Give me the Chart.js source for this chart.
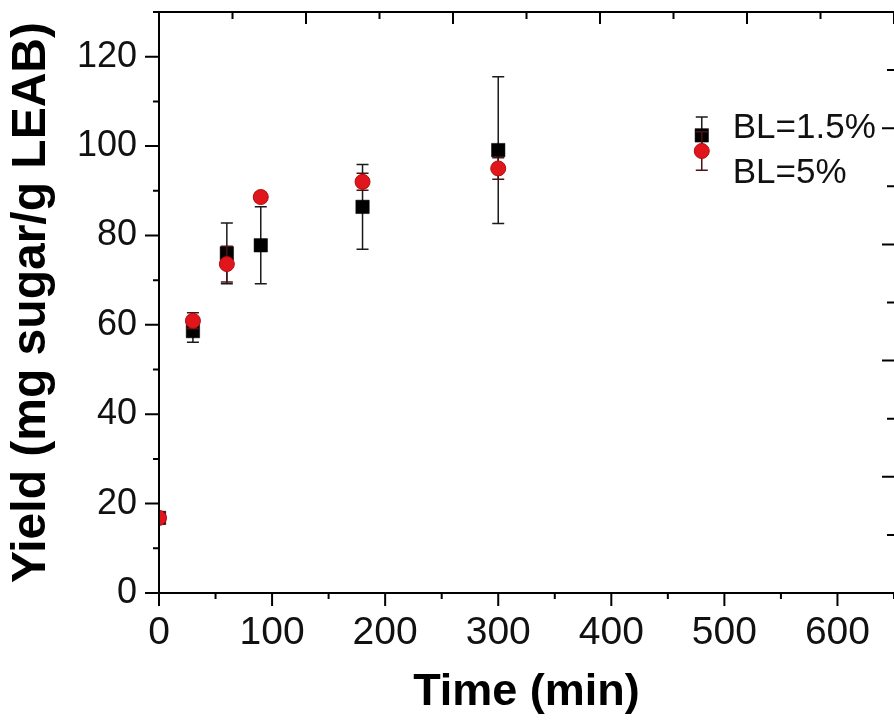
<!DOCTYPE html>
<html>
<head>
<meta charset="utf-8">
<script src="https://cdn.jsdelivr.net/npm/chart.js@4.4.1/dist/chart.umd.min.js"></script>
<style>
  html, body { margin: 0; padding: 0; background: #fff; overflow: hidden; }
  #yield-chart { display: block; }
</style>
</head>
<body>
<canvas id="yield-chart" width="904" height="723"></canvas>
<script>
// hydrolysis time (min) and sugar yield (mg sugar / g LEAB)
const times = [0, 30, 60, 90, 180, 300, 480];
const yieldBL15 = [16.8, 58.6, 76.0, 77.8, 86.4, 99.1, 102.4];
const errBL15 = [1.0, 2.5, 6.8, 8.6, 9.5, 16.4, 4.1];
const yieldBL5 = [16.8, 60.9, 73.6, 88.6, 92.0, 95.0, 98.9];
const errBL5 = [0.8, 1.8, 4.0, 1.0, 1.9, 2.4, 4.3];
const seriesNames = ["BL=1.5%", "BL=5%"];

const FONT = "'Liberation Sans', Arial, Helvetica, sans-serif";

const toPoints = ys => times.map((t, i) => ({ x: t, y: ys[i] }));

// error bars go under each series' own markers
const errorBars = {
  id: 'errorBars',
  beforeDatasetDraw(chart, args) {
    const ds = chart.data.datasets[args.index];
    if (!ds.errors) return;
    const { ctx, chartArea: a, scales } = chart;
    ctx.save();
    ctx.beginPath();
    ctx.rect(a.left, a.top, a.right - a.left, a.bottom - a.top);
    ctx.clip();
    ctx.strokeStyle = ds.errorColor;
    ctx.lineWidth = 1.5;
    ctx.beginPath();
    ds.data.forEach((p, i) => {
      const x = scales.x.getPixelForValue(p.x);
      const hi = scales.y.getPixelForValue(p.y + ds.errors[i]);
      const lo = scales.y.getPixelForValue(p.y - ds.errors[i]);
      ctx.moveTo(x, hi); ctx.lineTo(x, lo);
      ctx.moveTo(x - 6, hi); ctx.lineTo(x + 6, hi);
      ctx.moveTo(x - 6, lo); ctx.lineTo(x + 6, lo);
    });
    ctx.stroke();
    ctx.restore();
  }
};

// Origin-like frame: outward ticks left/bottom, inward ticks top/right.
// The right border itself falls outside the picture, only its ticks show.
const frame = {
  id: 'frame',
  afterDatasetsDraw(chart) {
    const { ctx, chartArea: a, scales } = chart;
    ctx.save();
    ctx.strokeStyle = '#000';
    ctx.lineWidth = 2;
    ctx.beginPath();
    ctx.moveTo(a.right + 5, a.top);
    ctx.lineTo(a.left, a.top);
    ctx.lineTo(a.left, a.bottom);
    ctx.lineTo(a.right + 5, a.bottom);
    for (let v = 0; v <= 650; v += 50) {
      const x = scales.x.getPixelForValue(v);
      const len = v % 100 === 0 ? 13 : 6;
      ctx.moveTo(x, a.bottom); ctx.lineTo(x, a.bottom + len);
    }
    for (let v = 0; v <= 130; v += 10) {
      const y = scales.y.getPixelForValue(v);
      const len = v % 20 === 0 ? 14 : 6;
      ctx.moveTo(a.left, y); ctx.lineTo(a.left - len, y);
    }
    for (let v = 0.5; v <= 5; v += 0.5) {
      const len = v % 1 === 0 ? 12 : 7;
      const x = scales.x2.getPixelForValue(v);
      ctx.moveTo(x, a.top); ctx.lineTo(x, a.top + len);
      const y = scales.y2.getPixelForValue(v);
      ctx.moveTo(a.right, y); ctx.lineTo(a.right - len, y);
    }
    ctx.stroke();
    ctx.restore();
  }
};

// legend text sits beside the 480 min markers
const legendText = {
  id: 'legendText',
  afterDraw(chart) {
    const { ctx, chartArea: a, scales } = chart;
    const x = scales.x.getPixelForValue(times[times.length - 1]) + 31;
    ctx.save();
    ctx.fillStyle = '#111';
    ctx.font = '35px ' + FONT;
    ctx.textBaseline = 'middle';
    ctx.fillText(seriesNames[0], x, a.top + 116);
    ctx.fillText(seriesNames[1], x, a.top + 161);
    ctx.restore();
  }
};

const tickFont = size => ({ family: FONT, size: size });
const noGrid = { display: false, drawTicks: false };

new Chart(document.getElementById('yield-chart'), {
  type: 'scatter',
  data: {
    datasets: [
      {
        label: seriesNames[0],
        data: toPoints(yieldBL15),
        errors: errBL15,
        errorColor: '#1a1a1a',
        pointStyle: 'rect',
        pointRadius: 9.5,
        backgroundColor: '#000',
        borderColor: '#000',
        borderWidth: 0.5,
        clip: 0,
        order: 2,
      },
      {
        label: seriesNames[1],
        data: toPoints(yieldBL5),
        errors: errBL5,
        errorColor: '#4a1414',
        pointStyle: 'circle',
        pointRadius: 7.5,
        backgroundColor: '#e0161c',
        borderColor: '#b30c0c',
        borderWidth: 1,
        clip: 0,
        order: 1,
      },
    ],
  },
  options: {
    responsive: false,
    animation: false,
    events: [],
    layout: { padding: 0 },
    plugins: { legend: { display: false }, tooltip: { enabled: false } },
    scales: {
      x: {
        type: 'linear', position: 'bottom', min: 0, max: 650,
        grid: noGrid, border: { display: false },
        ticks: { stepSize: 100, includeBounds: false, padding: 17, maxRotation: 0, color: '#111', font: tickFont(39) },
        title: { display: true, text: 'Time (min)', color: '#000', font: { family: FONT, size: 45, weight: 'bold' }, padding: { top: 0, bottom: 3 } },
        afterFit: s => { s.height = 130; s.paddingLeft = 0; s.paddingRight = 0; },
      },
      y: {
        type: 'linear', position: 'left', min: 0, max: 130,
        grid: noGrid, border: { display: false },
        ticks: { stepSize: 20, includeBounds: false, padding: 22, color: '#111', font: tickFont(36) },
        title: { display: true, text: 'Yield (mg sugar/g LEAB)', color: '#000', font: { family: FONT, size: 48, weight: 'bold' }, padding: { top: 3, bottom: 0 } },
        afterFit: s => { s.width = 159; s.paddingTop = 0; s.paddingBottom = 0; },
      },
      x2: {
        type: 'linear', position: 'top', min: 0, max: 5,
        grid: noGrid, border: { display: false }, ticks: { display: false },
        afterFit: s => { s.height = 12; s.paddingLeft = 0; s.paddingRight = 0; },
      },
      y2: {
        type: 'linear', position: 'right', min: 0, max: 5,
        grid: noGrid, border: { display: false }, ticks: { display: false },
        afterFit: s => { s.width = 7; s.paddingTop = 0; s.paddingBottom = 0; },
      },
    },
  },
  plugins: [errorBars, frame, legendText],
});
</script>
</body>
</html>
